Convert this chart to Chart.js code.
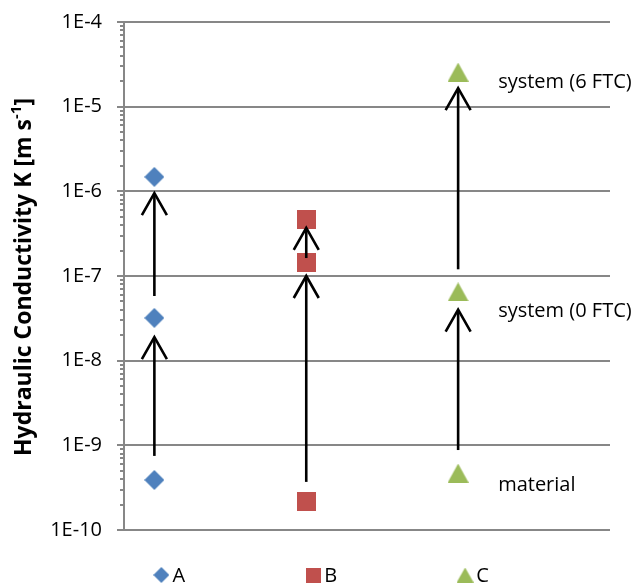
<!DOCTYPE html>
<html>
<head>
<meta charset="utf-8">
<script src="https://cdn.jsdelivr.net/npm/chart.js@4.4.1/dist/chart.umd.min.js"></script>
<style>
  html, body { margin: 0; padding: 0; background: #fff; }
  #wrap { width: 640px; height: 583px; position: relative; }
</style>
</head>
<body>
<div id="wrap"><canvas id="chart"></canvas></div>
<script>
// Hydraulic conductivity K [m/s] for three soils, measured at three stages
const seriesNames = ['A', 'B', 'C'];
const seriesX = [1, 2, 3];
const seriesColors = ['#4F81BD', '#C0504D', '#9BBB59'];
// stage order: material, system (0 FTC), system (6 FTC)
const valuesA = [3.9e-10, 3.2e-8, 1.48e-6];
const valuesB = [2.15e-10, 1.46e-7, 4.7e-7];
const valuesC = [4.7e-10, 6.5e-8, 2.56e-5];
// arrows showing the change between stages: [from K, to K]
const arrowsA = [[7.5e-10, 1.9e-8], [5.8e-8, 9.5e-7]];
const arrowsB = [[3.7e-10, 1.0e-7], [1.63e-7, 3.7e-7]];
const arrowsC = [[8.8e-10, 4.0e-8], [1.2e-7, 1.66e-5]];
// stage names written beside series C
const stageLabels = ['material', 'system (0 FTC)', 'system (6 FTC)'];
const stageLabelK = [3.4e-10, 3.8e-8, 1.95e-5];
// decades on the K axis
const decadeValues = [1e-10, 1e-9, 1e-8, 1e-7, 1e-6, 1e-5, 1e-4];
const decadeLabels = ['1E-10', '1E-9', '1E-8', '1E-7', '1E-6', '1E-5', '1E-4'];

const FONT = '"Open Sans", Lato, sans-serif';
const GRID = '#878787';

function markerImage(shape, color, w, h) {
  const c = document.createElement('canvas');
  c.width = w; c.height = h;
  const g = c.getContext('2d');
  g.fillStyle = color;
  g.beginPath();
  if (shape === 'diamond') {
    g.moveTo(w / 2, 0); g.lineTo(w, h / 2); g.lineTo(w / 2, h); g.lineTo(0, h / 2);
  } else if (shape === 'triangle') {
    g.moveTo(w / 2, 0); g.lineTo(w, h); g.lineTo(0, h);
  } else {
    g.rect(0, 0, w, h);
  }
  g.closePath();
  g.fill();
  return c;
}
const plotMarkers = [
  markerImage('diamond', seriesColors[0], 20, 20),
  markerImage('square', seriesColors[1], 19, 19),
  markerImage('triangle', seriesColors[2], 21, 19)
];
const legendMarkers = [
  markerImage('diamond', seriesColors[0], 16, 16),
  markerImage('square', seriesColors[1], 15, 15),
  markerImage('triangle', seriesColors[2], 17, 15)
];

const seriesValues = [valuesA, valuesB, valuesC];
const seriesArrows = [arrowsA, arrowsB, arrowsC];

const datasets = seriesNames.map((name, i) => ({
  label: name,
  data: seriesValues[i].map(v => ({ x: seriesX[i], y: v })),
  pointStyle: plotMarkers[i],
  backgroundColor: seriesColors[i],
  borderColor: seriesColors[i],
  showLine: false
}));

// all tick positions: 1..9 x 10^n within the axis range
const allTicks = [];
for (let d = 0; d < decadeValues.length; d++) {
  allTicks.push({ value: decadeValues[d], major: true });
  if (d < decadeValues.length - 1) {
    for (let m = 2; m <= 9; m++) allTicks.push({ value: m * decadeValues[d], major: false });
  }
}

const decorations = {
  id: 'decorations',
  afterDatasetsDraw(chart) {
    const ctx = chart.ctx;
    const xs = chart.scales.x, ys = chart.scales.y;
    ctx.save();
    // arrows
    ctx.strokeStyle = '#000';
    ctx.lineWidth = 2.6;
    ctx.lineCap = 'butt';
    ctx.lineJoin = 'miter';
    seriesArrows.forEach((arrows, i) => {
      const x = xs.getPixelForValue(seriesX[i]);
      arrows.forEach(([from, to]) => {
        const y1 = ys.getPixelForValue(from);
        const y2 = ys.getPixelForValue(to);
        ctx.beginPath();
        ctx.moveTo(x, y1);
        ctx.lineTo(x, y2 + 1);
        ctx.stroke();
        ctx.beginPath();
        ctx.moveTo(x - 12.5, y2 + 22);
        ctx.lineTo(x, y2);
        ctx.lineTo(x + 12.5, y2 + 22);
        ctx.stroke();
      });
    });
    // stage names
    ctx.fillStyle = '#000';
    ctx.font = '20px ' + FONT;
    ctx.textAlign = 'left';
    ctx.textBaseline = 'middle';
    const xc = xs.getPixelForValue(seriesX[2]);
    stageLabels.forEach((t, k) => {
      ctx.fillText(t, xc + 40, ys.getPixelForValue(stageLabelK[k]));
    });
    ctx.restore();
  },
  afterDraw(chart) {
    const ctx = chart.ctx;
    const xs = chart.scales.x, ys = chart.scales.y;
    const area = chart.chartArea;
    ctx.save();
    // tick marks on the K axis
    ctx.strokeStyle = GRID;
    ctx.lineWidth = 2;
    ys.ticks.forEach(t => {
      const y = Math.round(ys.getPixelForValue(t.value));
      ctx.beginPath();
      ctx.moveTo(area.left - (t.major ? 7 : 4), y);
      ctx.lineTo(area.left, y);
      ctx.stroke();
    });
    // axis title with superscript
    ctx.fillStyle = '#000';
    ctx.translate(24, 277);
    ctx.rotate(-Math.PI / 2);
    ctx.textBaseline = 'middle';
    ctx.textAlign = 'left';
    const main = 'Hydraulic Conductivity K [m s';
    const sup = '-1';
    const tail = ']';
    const bold = 'bold 23px ' + FONT;
    const supFont = 'bold 15px ' + FONT;
    ctx.font = bold;
    const wMain = ctx.measureText(main).width;
    const wTail = ctx.measureText(tail).width;
    ctx.font = supFont;
    const wSup = ctx.measureText(sup).width;
    const x0 = -(wMain + wSup + wTail) / 2;
    ctx.font = bold;
    ctx.fillText(main, x0, 0);
    ctx.font = supFont;
    ctx.fillText(sup, x0 + wMain, -7);
    ctx.font = bold;
    ctx.fillText(tail, x0 + wMain + wSup, 0);
    ctx.restore();

    // legend under the plot, one entry beneath each series
    ctx.save();
    ctx.fillStyle = '#000';
    ctx.font = '20px ' + FONT;
    ctx.textAlign = 'left';
    ctx.textBaseline = 'middle';
    const ly = area.bottom + 45;
    seriesNames.forEach((name, i) => {
      const cx = xs.getPixelForValue(seriesX[i]) + 7;
      const img = legendMarkers[i];
      ctx.drawImage(img, cx - img.width / 2, ly - img.height / 2);
      ctx.fillText(name, cx + 11, ly + 1);
    });
    ctx.restore();
  }
};

new Chart(document.getElementById('chart'), {
  type: 'scatter',
  data: { datasets },
  plugins: [decorations],
  options: {
    responsive: true,
    maintainAspectRatio: false,
    animation: false,
    events: [],
    layout: { padding: { left: 0, right: 30, top: 22, bottom: 53 } },
    plugins: { legend: { display: false }, tooltip: { enabled: false } },
    scales: {
      x: { type: 'linear', min: 0.8, max: 4.0, display: false },
      y: {
        type: 'logarithmic',
        min: decadeValues[0],
        max: decadeValues[decadeValues.length - 1],
        afterBuildTicks(scale) { scale.ticks = allTicks.map(t => ({ ...t })); },
        afterFit(scale) {
          scale.width = 124;
          scale.paddingTop = 12;
          scale.paddingBottom = 12;
        },
        border: { display: true, color: GRID, width: 2 },
        grid: {
          drawTicks: false,
          lineWidth: 2,
          color: ctx => (ctx.tick && ctx.tick.major ? GRID : 'rgba(0,0,0,0)')
        },
        ticks: {
          autoSkip: false,
          padding: 22,
          color: '#000',
          font: { family: FONT, size: 20 },
          callback(value) {
            const k = decadeValues.findIndex(d => Math.abs(d - value) / d < 1e-6);
            return k >= 0 ? decadeLabels[k] : '';
          }
        }
      }
    },
    elements: { point: { radius: 10, hoverRadius: 10 } }
  }
});
</script>
</body>
</html>
